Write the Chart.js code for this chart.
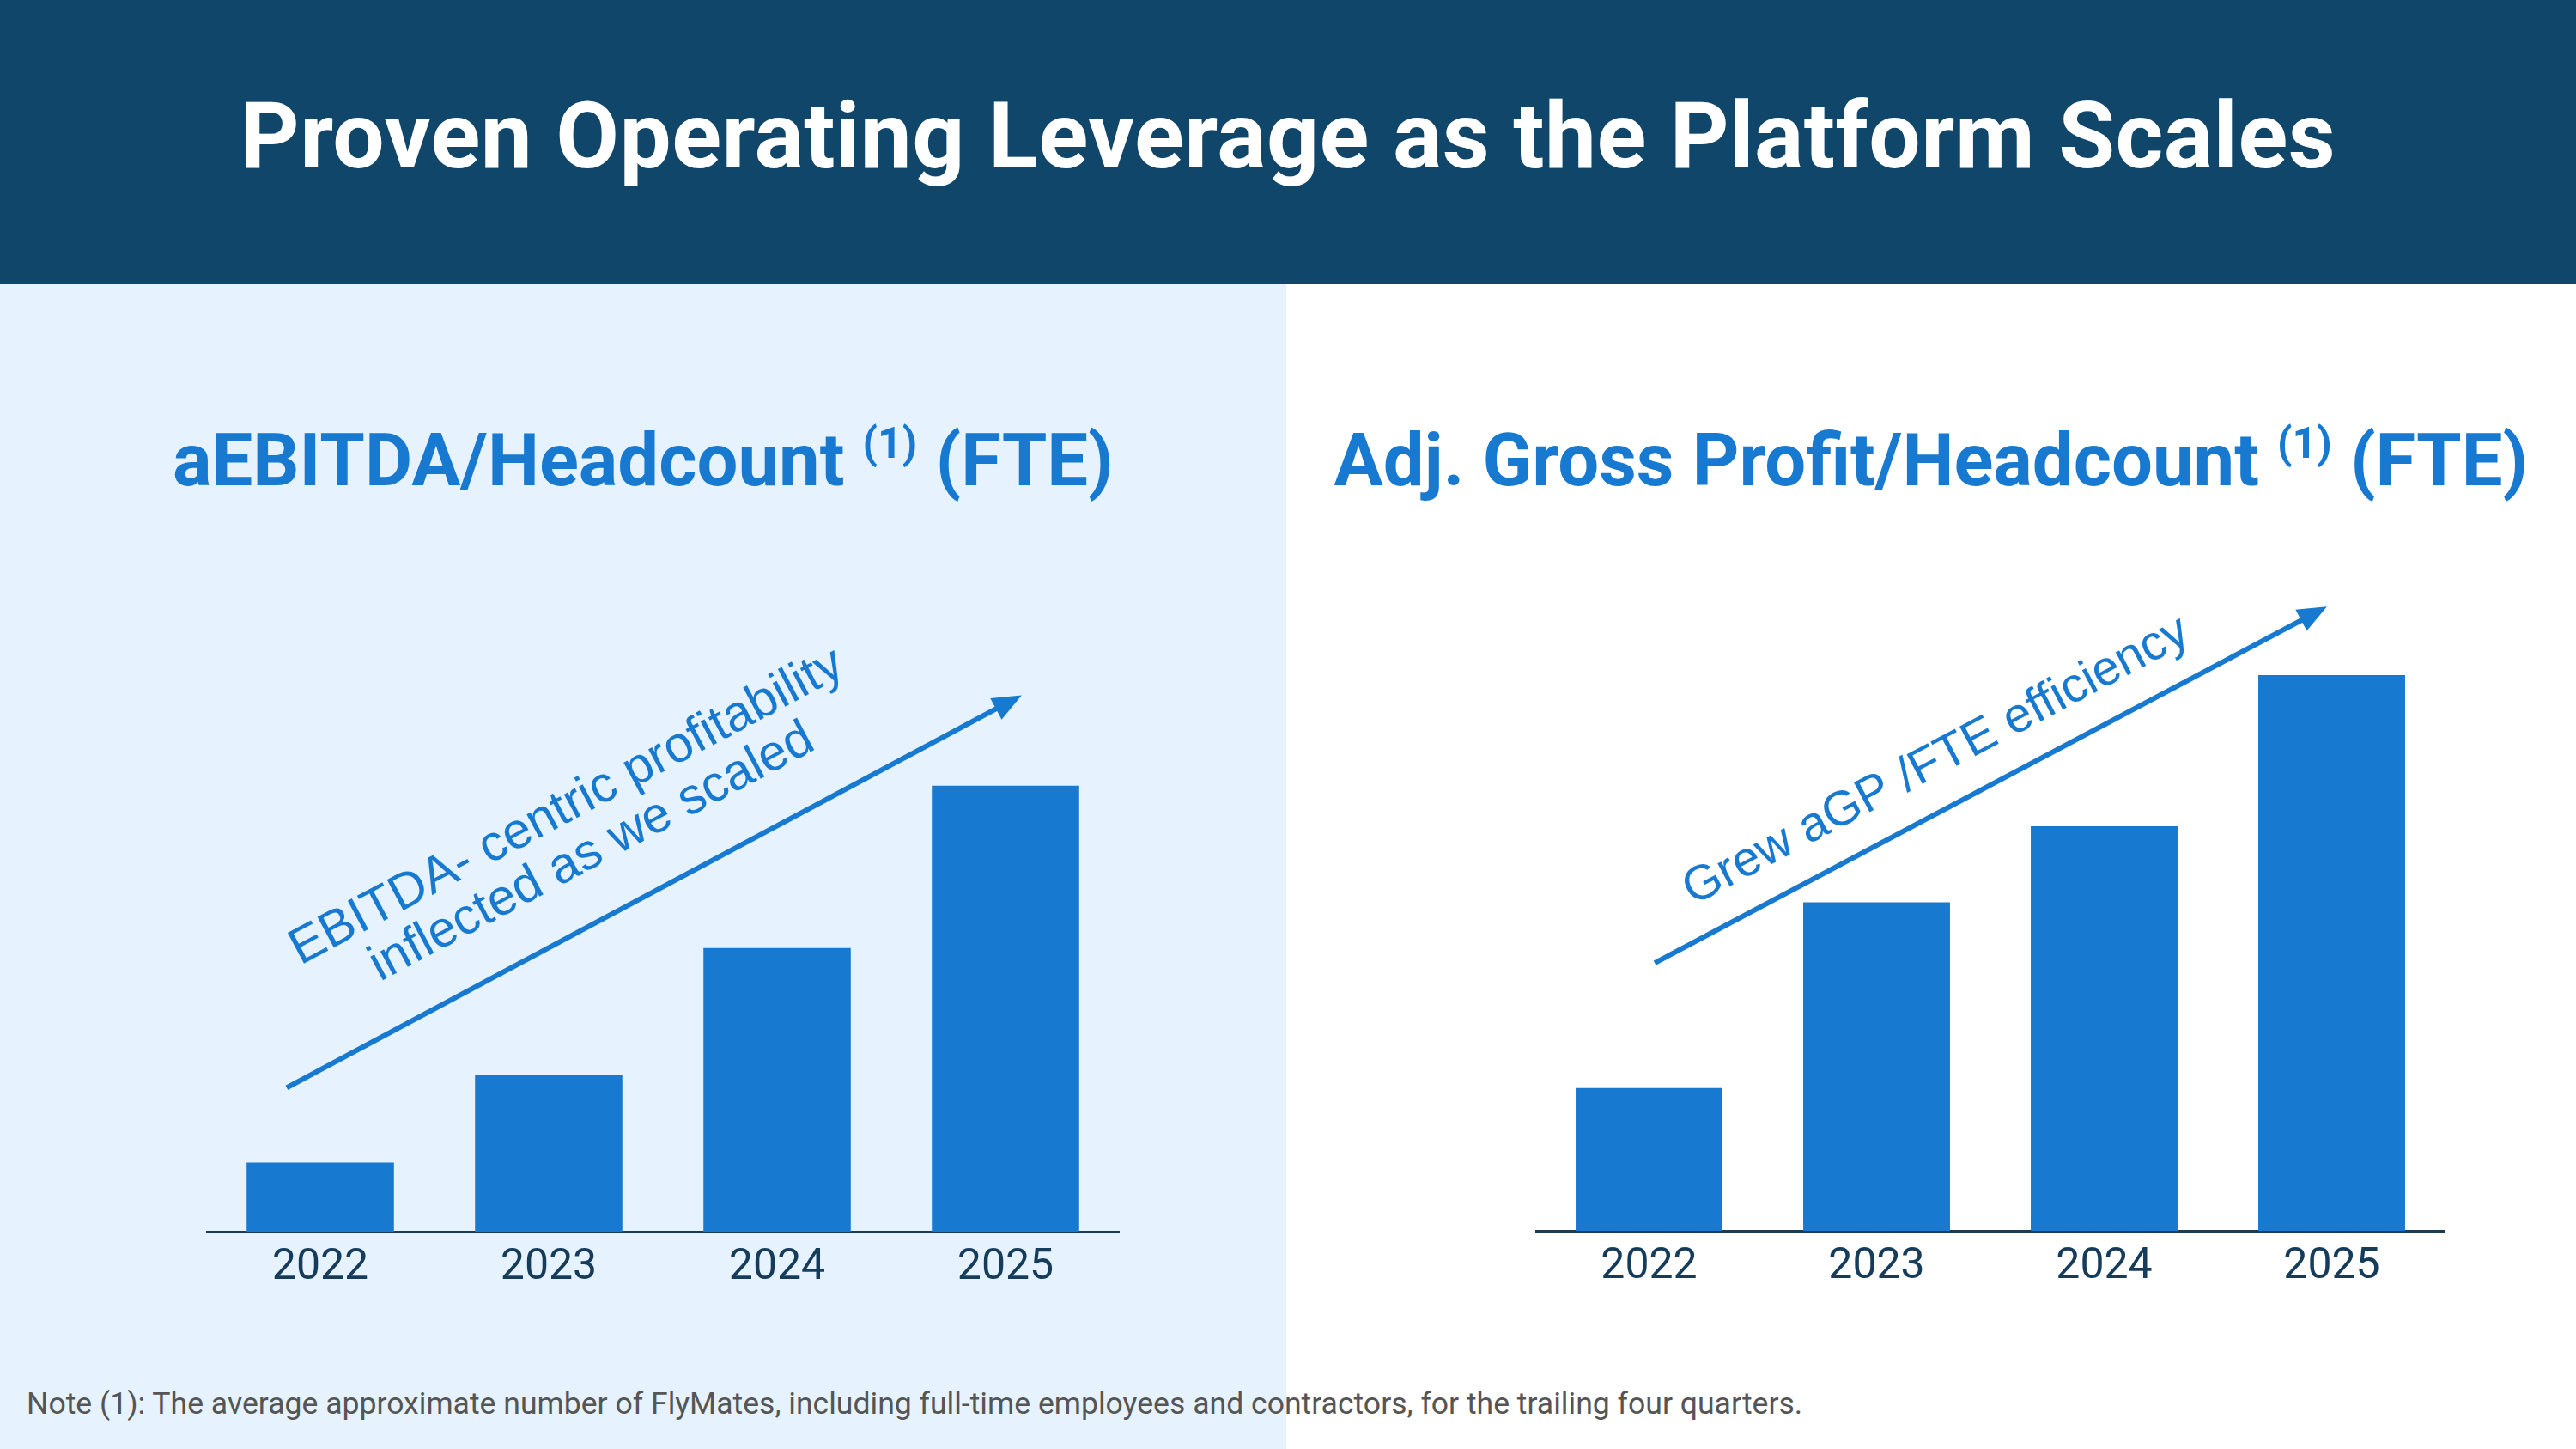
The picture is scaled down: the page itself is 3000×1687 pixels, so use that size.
<!DOCTYPE html>
<html>
<head>
<meta charset="utf-8">
<script src="https://cdn.jsdelivr.net/npm/chart.js@4.4.1/dist/chart.umd.min.js"></script>
<style>
  body { margin: 0; width: 3000px; height: 1687px; position: relative; overflow: hidden; font-family: Roboto, sans-serif; background: #fff; }
  #header { position: absolute; left: 0; top: 0; width: 3000px; height: 331px; background: #10466a; }
  #header h1 { margin: 0; color: #fff; font-weight: 700; font-size: 107px; line-height: 318px; text-align: center; letter-spacing: 0.5px; }
  #leftPanel { position: absolute; left: 0; top: 331px; width: 1498px; height: 1356px; background: #e6f3fe; }
  .sub { position: absolute; top: 480px; height: 112px; line-height: 112px; margin: 0; text-align: center; color: #1779cf; font-weight: 700; font-size: 85px; white-space: nowrap; }
  .sub sup { font-size: 50px; vertical-align: 32px; line-height: 0; }
  #subLeft { left: 0; width: 1498px; }
  #subRight { left: 1498px; width: 1502px; }
  canvas { position: absolute; }
  #note { position: absolute; left: 31px; top: 1613px; font-size: 35.6px; color: #555; white-space: nowrap; }
</style>
</head>
<body>
<div id="header"><h1>Proven Operating Leverage as the Platform Scales</h1></div>
<div id="leftPanel"></div>
<h2 class="sub" id="subLeft">aEBITDA/Headcount <sup>(1)</sup> (FTE)</h2>
<h2 class="sub" id="subRight">Adj. Gross Profit/Headcount <sup>(1)</sup> (FTE)</h2>
<canvas id="chartLeft" width="1064" height="868" style="left:240px;top:650px"></canvas>
<canvas id="chartRight" width="1060" height="867" style="left:1788px;top:650px"></canvas>
<div id="note">Note (1): The average approximate number of FlyMates, including full-time employees and contractors, for the trailing four quarters.</div>

<script>
// Years on the x axis (same for both charts)
const years = ['2022', '2023', '2024', '2025'];

// Relative values (2025 = 100), no y scale is shown
const ebitdaPerFte = [15.5, 35.2, 63.6, 100];
const grossProfitPerFte = [25.7, 59.1, 72.8, 100];

// Trend arrows and their captions, in data coordinates (category index, value)
const leftArrow = { from: [-0.147, 32.3], to: [3.071, 120.3] };
const leftCaption = [
  { text: 'EBITDA- centric profitability', at: [1.109, 92.4] },
  { text: 'inflected as we scaled', at: [1.218, 82.2] }
];
const rightArrow = { from: [0.025, 48.2], to: [2.979, 112.3] };
const rightCaption = [
  { text: 'Grew aGP /FTE efficiency', at: [1.29, 82.3] }
];

const barBlue = '#1779cf';

const trendPlugin = {
  id: 'trend',
  afterDatasetsDraw(chart, args, opts) {
    const ctx = chart.ctx;
    const xs = chart.scales.x, ys = chart.scales.y;
    const px = p => [xs.getPixelForValue(p[0]), ys.getPixelForValue(p[1])];
    const [x0, y0] = px(opts.arrow.from);
    const [x1, y1] = px(opts.arrow.to);
    const ang = Math.atan2(y1 - y0, x1 - x0);
    const head = 34, half = 14;
    ctx.save();
    ctx.strokeStyle = barBlue;
    ctx.fillStyle = barBlue;
    ctx.lineWidth = 6;
    ctx.beginPath();
    ctx.moveTo(x0, y0);
    ctx.lineTo(x1 - Math.cos(ang) * head * 0.8, y1 - Math.sin(ang) * head * 0.8);
    ctx.stroke();
    ctx.translate(x1, y1);
    ctx.rotate(ang);
    ctx.beginPath();
    ctx.moveTo(0, 0);
    ctx.lineTo(-head, -half);
    ctx.lineTo(-head, half);
    ctx.closePath();
    ctx.fill();
    ctx.restore();

    ctx.save();
    ctx.fillStyle = barBlue;
    ctx.font = opts.fontSize + 'px "Liberation Sans", Arial, sans-serif';
    ctx.textAlign = 'center';
    ctx.textBaseline = 'alphabetic';
    opts.caption.forEach(line => {
      const [tx, ty] = px(line.at);
      ctx.save();
      ctx.translate(tx, ty);
      ctx.rotate(ang);
      ctx.fillText(line.text, 0, 0);
      ctx.restore();
    });
    ctx.restore();
  }
};

function makeChart(id, values, yMax, arrow, caption, fontSize) {
  return new Chart(document.getElementById(id), {
    type: 'bar',
    data: {
      labels: years,
      datasets: [{
        data: values,
        backgroundColor: barBlue,
        barPercentage: 0.645,
        categoryPercentage: 1.0
      }]
    },
    options: {
      responsive: false,
      animation: false,
      devicePixelRatio: 1,
      layout: { padding: 0 },
      plugins: {
        legend: { display: false },
        tooltip: { enabled: false },
        trend: { arrow: arrow, caption: caption, fontSize: fontSize }
      },
      scales: {
        x: {
          grid: { display: false, drawTicks: false },
          border: { display: true, color: '#1b3b57', width: 3 },
          ticks: { color: '#163c5c', font: { family: 'Roboto', size: 50 }, padding: 12 }
        },
        y: { display: false, min: 0, max: yMax }
      }
    },
    plugins: [trendPlugin]
  });
}

makeChart('chartLeft', ebitdaPerFte, 151, leftArrow, leftCaption, 59);
makeChart('chartRight', grossProfitPerFte, 121, rightArrow, rightCaption, 57);
</script>
</body>
</html>
